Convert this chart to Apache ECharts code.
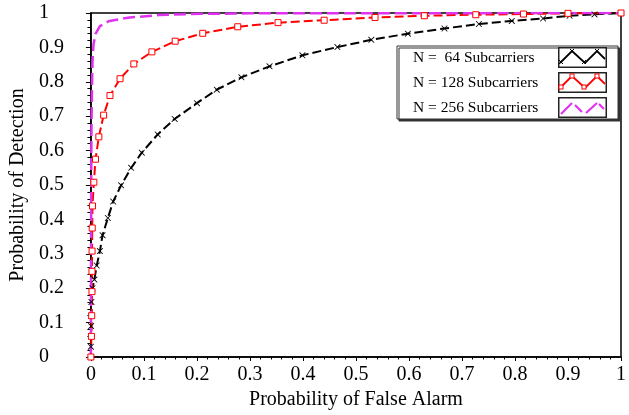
<!DOCTYPE html>
<html>
<head>
<meta charset="utf-8">
<script src="https://cdn.jsdelivr.net/npm/echarts@6/dist/echarts.min.js"></script>
<style>
  html, body { margin: 0; padding: 0; background: #fff; }
  #chart { width: 629px; height: 415px; }
</style>
</head>
<body>
<div id="chart"></div>
<script>
var names = ['N =  64 Subcarriers', 'N = 128 Subcarriers', 'N = 256 Subcarriers'];
var colors = ['#000000', '#ff0000', '#e033f0'];

// N = 64
var pfa64 = [0, 0, 0.0002, 0.0004, 0.0006, 0.001, 0.003, 0.0065, 0.011, 0.017, 0.022, 0.032, 0.042,
	0.057, 0.076, 0.096, 0.126, 0.158, 0.2, 0.2375, 0.284, 0.337, 0.399, 0.465, 0.529, 0.598,
	0.667, 0.732, 0.794, 0.853, 0.903, 0.95, 1];
var pd64 = [0, 0.03, 0.06, 0.09, 0.12, 0.16, 0.2, 0.225, 0.266, 0.308, 0.354, 0.404, 0.452,
	0.499, 0.55, 0.594, 0.647, 0.692, 0.738, 0.777, 0.813, 0.845, 0.877, 0.901, 0.922, 0.94,
	0.955, 0.968, 0.977, 0.984, 0.992, 0.996, 1];

// N = 128
var pfa128 = [0, 0.001, 0.0015, 0.002, 0.002, 0.0022, 0.0025, 0.003, 0.0056, 0.0087, 0.015, 0.024,
	0.036, 0.055, 0.081, 0.115, 0.159, 0.211, 0.277, 0.353, 0.44, 0.536, 0.629, 0.726, 0.816, 0.9, 1];
var pd128 = [0, 0.06, 0.12, 0.19, 0.249, 0.308, 0.375, 0.439, 0.508, 0.575, 0.64, 0.703,
	0.76, 0.809, 0.852, 0.887, 0.918, 0.941, 0.96, 0.972, 0.979, 0.987, 0.992, 0.995, 0.997, 0.999, 1];

// N = 256
var pfa256 = [0, 0.0003, 0.0006, 0.001, 0.002, 0.003, 0.005, 0.009, 0.017, 0.035, 0.073, 0.129, 0.185, 0.3, 1];
var pd256 = [0, 0.3, 0.5, 0.65, 0.78, 0.86, 0.91, 0.94, 0.962, 0.977, 0.987, 0.994, 0.997, 0.999, 1];

function pairs(xs, ys){
	var out = [];
	for (var i = 0; i < xs.length; i++) out.push([xs[i], ys[i]]);
	return out;
}

// legend swatches: framed box with a zigzag, like the original plot
function swatch(c, mark){
	var s = '<svg xmlns="http://www.w3.org/2000/svg" width="49" height="21" viewBox="0 0 49 21">' +
		'<rect x="0.75" y="0.75" width="47.5" height="19.5" fill="#fff" stroke="#222" stroke-width="1.5"/>';
	if (mark === 'none') {
		s += '<polyline points="3,17 14,6" stroke="' + c + '" stroke-width="2.2" fill="none"/>' +
			'<polyline points="17,8 24,15" stroke="' + c + '" stroke-width="2.2" fill="none"/>' +
			'<polyline points="28,16 39,6" stroke="' + c + '" stroke-width="2.2" fill="none"/>' +
			'<polyline points="41,7 46,12" stroke="' + c + '" stroke-width="2.2" fill="none"/>';
	} else {
		s += '<polyline points="2,16 14,4 27,16 39,4 47,12" stroke="' + c + '" stroke-width="1.8" fill="none"/>';
		var pts = [[3, 15], [14, 4], [26, 15], [39, 4]];
		pts.forEach(function(p){
			if (mark === 'x') {
				s += '<path d="M' + (p[0] - 2) + ',' + (p[1] - 2) + ' l4,4 M' + (p[0] + 2) + ',' + (p[1] - 2) + ' l-4,4" stroke="' + c + '" stroke-width="1"/>';
			} else {
				s += '<rect x="' + (p[0] - 2) + '" y="' + (p[1] - 2) + '" width="4" height="4" fill="#fff" stroke="' + c + '" stroke-width="1"/>';
			}
		});
	}
	s += '</svg>';
	return 'image://data:image/svg+xml;charset=utf-8,' + encodeURIComponent(s);
}

var crossPath = 'path://M0,0 L1,0 L5,4 L9,0 L10,0 L10,1 L6,5 L10,9 L10,10 L9,10 L5,6 L1,10 L0,10 L0,9 L4,5 L0,1 Z';
var serif = 'Liberation Serif';

(function(){
	var chart = echarts.init(document.getElementById('chart'));
	var option = {
		animation: false,
		backgroundColor: '#fff',
		grid: {
			left: 90, right: 2, top: 13, bottom: 58,
			show: true, borderColor: '#000', borderWidth: 1.5
		},
		legend: {
			data: [
				{ name: names[0], icon: swatch(colors[0], 'x') },
				{ name: names[1], icon: swatch(colors[1], 'sq') },
				{ name: names[2], icon: swatch(colors[2], 'none') }
			],
			orient: 'vertical',
			left: 397,
			top: 46,
			align: 'right',
			itemWidth: 49,
			itemHeight: 21,
			itemGap: 4,
			padding: [1, 11, 1, 16],
			backgroundColor: '#fff',
			borderColor: '#333',
			borderWidth: 1,
			shadowColor: '#333',
			shadowBlur: 0,
			shadowOffsetX: 2,
			shadowOffsetY: 2,
			formatter: function(n){ return '{t|' + n + '}'; },
			textStyle: {
				rich: {
					t: { width: 140, align: 'left', fontSize: 15.5, fontFamily: serif, color: '#000' }
				}
			}
		},
		xAxis: {
			type: 'value',
			min: 0, max: 1, interval: 0.1,
			name: 'Probability of False Alarm',
			nameLocation: 'middle',
			nameGap: 31,
			nameTextStyle: { fontSize: 20, fontFamily: serif, color: '#000' },
			axisLine: { show: true, lineStyle: { color: '#000', width: 1.5 } },
			axisTick: { show: true, length: 4, lineStyle: { color: '#000' } },
			minorTick: { show: true, splitNumber: 5, length: 2.5, lineStyle: { color: '#000' } },
			splitLine: { show: false },
			axisLabel: { fontSize: 20, fontFamily: serif, color: '#000', margin: 8 }
		},
		yAxis: {
			type: 'value',
			min: 0, max: 1, interval: 0.1,
			name: 'Probability of Detection',
			nameLocation: 'middle',
			nameGap: 62,
			nameTextStyle: { fontSize: 20, fontFamily: serif, color: '#000' },
			axisLine: { show: true, lineStyle: { color: '#000', width: 1.5 } },
			axisTick: { show: true, length: 5, lineStyle: { color: '#000' } },
			minorTick: { show: true, splitNumber: 5, length: 3.5, lineStyle: { color: '#000' } },
			splitLine: { show: false },
			axisLabel: { fontSize: 20, fontFamily: serif, color: '#000', margin: 52, align: 'left' }
		},
		series: [
			{
				name: names[0],
				type: 'line',
				data: pairs(pfa64, pd64),
				color: colors[0],
				symbol: crossPath,
				symbolSize: 6,
				itemStyle: { color: colors[0] },
				lineStyle: { color: colors[0], width: 2, type: [9, 4] }
			},
			{
				name: names[1],
				type: 'line',
				data: pairs(pfa128, pd128),
				color: colors[1],
				symbol: 'rect',
				symbolSize: 6,
				itemStyle: { color: '#fff', borderColor: colors[1], borderWidth: 1 },
				lineStyle: { color: colors[1], width: 2, type: [9, 4] }
			},
			{
				name: names[2],
				type: 'line',
				data: pairs(pfa256, pd256),
				color: colors[2],
				symbol: 'none',
				lineStyle: { color: colors[2], width: 2.5, type: [12, 5] }
			}
		]
	};
	chart.setOption(option);
})();
</script>
</body>
</html>
